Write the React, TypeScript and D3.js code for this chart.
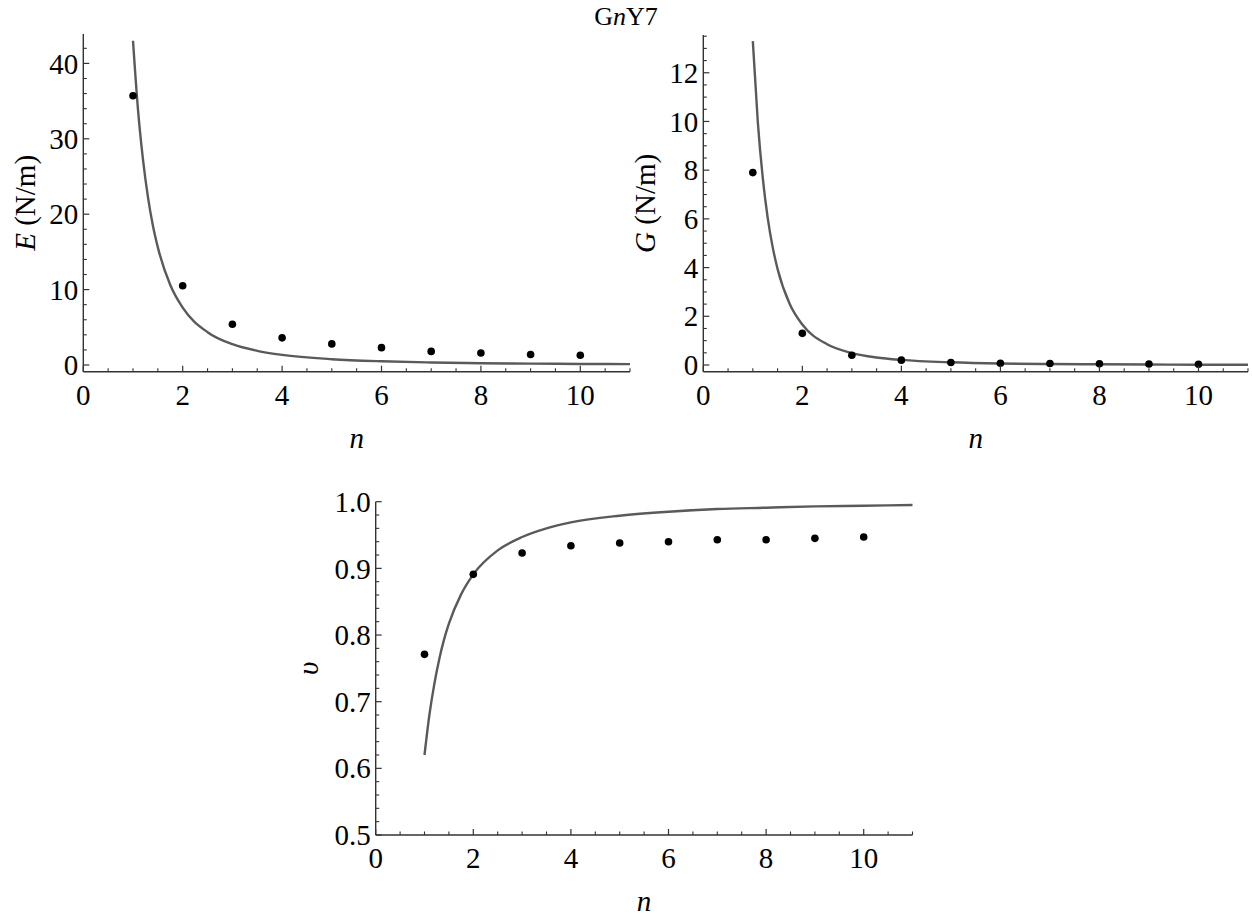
import React from "react";
import * as d3 from "d3";

// ---- data ----
const nValues = [1, 2, 3, 4, 5, 6, 7, 8, 9, 10];
const eMeasured = [35.7, 10.5, 5.4, 3.6, 2.8, 2.3, 1.8, 1.6, 1.4, 1.3];
const gMeasured = [7.9, 1.3, 0.4, 0.2, 0.1, 0.07, 0.06, 0.05, 0.04, 0.03];
const nuMeasured = [0.771, 0.891, 0.923, 0.934, 0.938, 0.94, 0.943, 0.943, 0.945, 0.947];

// fitted curves
const fitN = [1, 1.1, 1.2, 1.3, 1.4, 1.5, 1.75, 2, 2.5, 3, 3.5, 4, 5, 6, 7, 8, 9, 10, 11];
const eFit = [43.0, 33.9, 27.3, 22.3, 18.5, 15.6, 10.6, 7.6, 4.35, 2.76, 1.88, 1.34, 0.77, 0.49, 0.33, 0.24, 0.18, 0.14, 0.11];
const gFit = [13.3, 10.0, 7.7, 6.05, 4.85, 3.94, 2.48, 1.66, 0.85, 0.49, 0.31, 0.21, 0.11, 0.06, 0.04, 0.03, 0.02, 0.013, 0.01];
const nuFit = [0.62, 0.68, 0.726, 0.763, 0.793, 0.817, 0.861, 0.891, 0.927, 0.947, 0.96, 0.969, 0.979, 0.985, 0.989, 0.991, 0.993, 0.994, 0.995];

// ticks
const xMajorTicks = [0, 2, 4, 6, 8, 10];
const eMajorTicks = [0, 10, 20, 30, 40];
const gMajorTicks = [0, 2, 4, 6, 8, 10, 12];
const nuMajorTicks = [0.5, 0.6, 0.7, 0.8, 0.9, 1.0];

const FONT = "'Liberation Serif', 'Times New Roman', Times, serif";
const FS = 29;

type PanelProps = {
  xRange: [number, number];
  yRange: [number, number];
  yDomain: [number, number];
  yMajor: number[];
  yMinorStep: number;
  yFormat: (v: number) => string;
  points: number[];
  fit: number[];
  yLabel: React.ReactNode;
  yLabelX: number;
};

function Panel(p: PanelProps) {
  const x = d3.scaleLinear().domain([0, 11]).range(p.xRange);
  const y = d3.scaleLinear().domain(p.yDomain).range(p.yRange);
  const axisY = p.yRange[0];
  const axisX = p.xRange[0];
  const xMinor = d3.range(0.5, 11.0001, 0.5).filter((v) => Math.abs(v / 2 - Math.round(v / 2)) > 1e-6);
  const yMinor = d3
    .range(p.yMajor[0], p.yDomain[1] + 1e-9, p.yMinorStep)
    .filter((v) => !p.yMajor.some((m) => Math.abs(m - v) < 1e-6));
  const line = d3
    .line<number>()
    .x((_, i) => x(fitN[i]))
    .y((d) => y(d))
    .curve(d3.curveMonotoneX);
  const midY = (p.yRange[0] + p.yRange[1]) / 2;
  const midX = (p.xRange[0] + p.xRange[1]) / 2;
  return (
    <g>
      <path d={line(p.fit) || ""} fill="none" stroke="#5a5a5a" strokeWidth={2.4} />
      {p.points.map((v, i) => (
        <circle key={i} cx={x(nValues[i])} cy={y(v)} r={3.8} fill="#000" />
      ))}
      <line x1={axisX} x2={p.xRange[1]} y1={axisY} y2={axisY} stroke="#333" strokeWidth={1.4} />
      <line x1={axisX} x2={axisX} y1={axisY} y2={p.yRange[1]} stroke="#333" strokeWidth={1.4} />
      {xMajorTicks.map((t) => (
        <g key={"xm" + t}>
          <line x1={x(t)} x2={x(t)} y1={axisY} y2={axisY - 6} stroke="#333" strokeWidth={1.2} />
          <text x={x(t)} y={axisY + 23} dy="0.35em" textAnchor="middle" fontFamily={FONT} fontSize={FS}>
            {t}
          </text>
        </g>
      ))}
      {xMinor.map((t) => (
        <line key={"xn" + t} x1={x(t)} x2={x(t)} y1={axisY} y2={axisY - 3.5} stroke="#333" strokeWidth={1.1} />
      ))}
      {p.yMajor.map((t) => (
        <g key={"ym" + t}>
          <line x1={axisX} x2={axisX + 6} y1={y(t)} y2={y(t)} stroke="#333" strokeWidth={1.2} />
          <text x={axisX - 5} y={y(t)} dy="0.35em" textAnchor="end" fontFamily={FONT} fontSize={FS}>
            {p.yFormat(t)}
          </text>
        </g>
      ))}
      {yMinor.map((t) => (
        <line key={"yn" + t} x1={axisX} x2={axisX + 3.5} y1={y(t)} y2={y(t)} stroke="#333" strokeWidth={1.1} />
      ))}
      <text x={midX} y={axisY + 66} dy="0.35em" textAnchor="middle" fontFamily={FONT} fontSize={FS} fontStyle="italic">
        n
      </text>
      <text
        transform={`translate(${p.yLabelX},${midY}) rotate(-90)`}
        dy="0.35em"
        textAnchor="middle"
        fontFamily={FONT}
        fontSize={FS}
      >
        {p.yLabel}
      </text>
    </g>
  );
}

export default function App() {
  const f0 = d3.format("d");
  const f1 = d3.format(".1f");
  return (
    <svg
      width={1252}
      height={917}
      style={{ position: "absolute", left: 0, top: 0, background: "#fff" }}
    >
      <rect width={1252} height={917} fill="#fff" />
      <text x={626} y={25} textAnchor="middle" fontFamily={FONT} fontSize={26}>
        G<tspan fontStyle="italic">n</tspan>Y7
      </text>
      <Panel
        xRange={[83.3, 630]}
        yRange={[371.7, 34]}
        yDomain={[-0.89, 43.9]}
        yMajor={eMajorTicks}
        yMinorStep={2}
        yFormat={f0}
        points={eMeasured}
        fit={eFit}
        yLabel={
          <>
            <tspan fontStyle="italic">E</tspan> (N/m)
          </>
        }
        yLabelX={25}
      />
      <Panel
        xRange={[703.3, 1248]}
        yRange={[371.7, 35]}
        yDomain={[-0.275, 13.55]}
        yMajor={gMajorTicks}
        yMinorStep={0.5}
        yFormat={f0}
        points={gMeasured}
        fit={gFit}
        yLabel={
          <>
            <tspan fontStyle="italic">G</tspan> (N/m)
          </>
        }
        yLabelX={645}
      />
      <Panel
        xRange={[375.7, 912.5]}
        yRange={[835, 501.7]}
        yDomain={[0.5, 1.0]}
        yMajor={nuMajorTicks}
        yMinorStep={0.02}
        yFormat={f1}
        points={nuMeasured}
        fit={nuFit}
        yLabel={<tspan fontStyle="italic">υ</tspan>}
        yLabelX={308}
      />
    </svg>
  );
}
